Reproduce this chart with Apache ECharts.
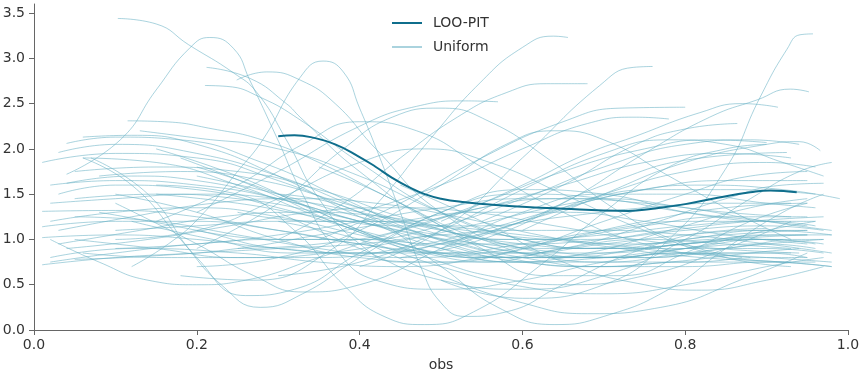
<!DOCTYPE html>
<html>
<head>
<meta charset="utf-8">
<script src="https://cdn.jsdelivr.net/npm/echarts@6/dist/echarts.min.js"></script>
<style>
  html, body { margin: 0; padding: 0; background: #fff; }
  #chart { width: 862px; height: 375px; }
</style>
</head>
<body>
<div id="chart"></div>
<script>
const xTicks = [0, 0.2, 0.4, 0.6, 0.8, 1.0];
const yTicks = [0, 0.5, 1.0, 1.5, 2.0, 2.5, 3.0, 3.5];

// LOO-PIT kde
const looPit = [
  [0.30, 2.14], [0.32, 2.15], [0.34, 2.13], [0.37, 2.05], [0.40, 1.91], [0.42, 1.80],
  [0.44, 1.68], [0.46, 1.58], [0.48, 1.50], [0.50, 1.45], [0.53, 1.41], [0.56, 1.385],
  [0.60, 1.36], [0.65, 1.34], [0.70, 1.32], [0.73, 1.315], [0.76, 1.34], [0.80, 1.39],
  [0.84, 1.46], [0.88, 1.52], [0.905, 1.54], [0.937, 1.52]
];

// kde curves of uniform samples (estimated)
const uniformCurves = [
  [[0.103,3.44],[0.15,3.38],[0.19,3.15],[0.245,2.84],[0.274,2.62],[0.31,2.1],[0.35,1.45],[0.4,0.95],[0.45,0.75],[0.55,0.75],[0.65,0.9],[0.75,1.0],[0.85,0.95],[0.93,0.9]],
  [[0.04,1.72],[0.106,2.1],[0.15,2.65],[0.192,3.12],[0.216,3.23],[0.245,3.11],[0.265,2.76],[0.298,2.13],[0.33,1.5],[0.37,0.9],[0.42,0.55],[0.5,0.45],[0.6,0.55],[0.7,0.75],[0.8,0.85],[0.88,0.8]],
  [[0.12,0.7],[0.165,0.95],[0.204,1.25],[0.25,1.75],[0.281,2.1],[0.327,2.79],[0.355,2.97],[0.38,2.85],[0.40,2.45],[0.425,1.9],[0.45,1.3],[0.475,0.7],[0.5,0.3],[0.53,0.15],[0.58,0.2],[0.65,0.5],[0.75,0.9],[0.85,1.1],[0.9,1.12]],
  [[0.5,0.55],[0.6,0.35],[0.7,0.5],[0.78,1.0],[0.849,1.77],[0.892,2.57],[0.925,3.1],[0.941,3.26],[0.957,3.27]],
  [[0.18,0.6],[0.27,0.55],[0.364,0.88],[0.425,1.43],[0.486,2.1],[0.548,2.73],[0.6,3.12],[0.638,3.245],[0.656,3.23]],
  [[0.4,0.7],[0.5,1.1],[0.6,1.9],[0.695,2.7],[0.736,2.9],[0.76,2.91]],
  [[0.3,1.0],[0.38,1.4],[0.45,1.9],[0.52,2.35],[0.58,2.62],[0.63,2.72],[0.68,2.72]],
  [[0.2,1.3],[0.3,1.75],[0.4,2.25],[0.47,2.47],[0.53,2.53],[0.57,2.52]],
  [[0.212,2.9],[0.265,2.78],[0.31,2.5],[0.327,2.35],[0.4,1.75],[0.5,1.15],[0.6,0.85],[0.7,0.8],[0.8,0.9],[0.9,1.0],[0.97,1.0]],
  [[0.21,2.7],[0.237,2.69],[0.278,2.57],[0.327,2.32],[0.4,1.85],[0.5,1.3],[0.6,1.0],[0.7,0.9],[0.8,1.0],[0.9,1.1],[0.95,1.1]],
  [[0.249,2.76],[0.286,2.85],[0.327,2.76],[0.37,2.5],[0.42,2.0],[0.5,1.3],[0.6,0.9],[0.7,0.8],[0.8,0.9],[0.9,1.1],[0.96,1.2]],
  [[0.45,0.8],[0.55,1.0],[0.65,1.4],[0.75,1.95],[0.83,2.35],[0.888,2.54],[0.929,2.66],[0.952,2.63]],
  [[0.5,1.2],[0.6,1.6],[0.68,1.95],[0.736,2.13],[0.818,2.4],[0.87,2.5],[0.914,2.46]],
  [[0.35,1.0],[0.45,1.4],[0.55,1.9],[0.65,2.3],[0.72,2.45],[0.80,2.46]],
  [[0.4,1.3],[0.5,1.6],[0.6,2.0],[0.68,2.28],[0.74,2.35],[0.78,2.33]],
  [[0.55,1.2],[0.65,1.6],[0.74,2.05],[0.8,2.22],[0.864,2.28]],
  [[0.6,1.1],[0.7,1.5],[0.8,1.85],[0.9,2.05],[0.94,2.08],[0.966,1.98]],
  [[0.5,0.9],[0.6,1.2],[0.7,1.6],[0.82,1.9],[0.925,1.96]],
  [[0.01,0.72],[0.1,0.8],[0.2,0.85],[0.3,0.9],[0.4,0.95],[0.5,1.05],[0.6,1.1],[0.7,1.1],[0.8,1.05],[0.9,0.95],[0.98,0.85]],
  [[0.02,0.75],[0.1,0.85],[0.2,0.95],[0.3,1.0],[0.4,1.0],[0.5,0.95],[0.6,0.95],[0.7,1.0],[0.8,1.1],[0.9,1.15],[0.97,1.1]],
  [[0.02,0.8],[0.12,0.9],[0.25,0.85],[0.35,0.75],[0.45,0.7],[0.55,0.8],[0.65,1.0],[0.75,1.2],[0.85,1.35],[0.95,1.4]],
  [[0.01,1.02],[0.1,1.05],[0.2,1.0],[0.3,0.9],[0.4,0.85],[0.5,0.85],[0.6,0.95],[0.7,1.1],[0.8,1.2],[0.9,1.2],[0.96,1.15]],
  [[0.01,1.14],[0.1,1.2],[0.2,1.2],[0.3,1.1],[0.4,0.95],[0.5,0.85],[0.6,0.85],[0.7,0.95],[0.8,1.05],[0.9,1.1],[0.98,1.05]],
  [[0.01,1.31],[0.1,1.32],[0.2,1.25],[0.3,1.1],[0.4,0.95],[0.5,0.85],[0.6,0.8],[0.7,0.85],[0.8,0.95],[0.9,1.0],[0.97,0.95]],
  [[0.02,1.2],[0.1,1.3],[0.2,1.35],[0.3,1.25],[0.4,1.05],[0.5,0.85],[0.6,0.75],[0.7,0.8],[0.8,0.9],[0.9,0.95],[0.96,0.9]],
  [[0.03,1.5],[0.1,1.6],[0.2,1.55],[0.3,1.35],[0.4,1.1],[0.5,0.9],[0.6,0.8],[0.7,0.8],[0.8,0.85],[0.9,0.85],[0.95,0.8]],
  [[0.04,1.62],[0.12,1.7],[0.2,1.65],[0.3,1.45],[0.4,1.2],[0.5,0.95],[0.6,0.75],[0.7,0.7],[0.8,0.75],[0.9,0.75],[0.98,0.7]],
  [[0.01,1.85],[0.1,1.95],[0.2,1.9],[0.3,1.65],[0.4,1.3],[0.5,1.0],[0.6,0.8],[0.7,0.7],[0.8,0.7],[0.9,0.75],[0.96,0.75]],
  [[0.03,1.96],[0.1,2.05],[0.2,1.95],[0.3,1.7],[0.4,1.35],[0.5,1.05],[0.6,0.85],[0.7,0.75],[0.8,0.75],[0.9,0.8],[0.95,0.8]],
  [[0.04,2.06],[0.1,2.13],[0.18,2.1],[0.28,1.85],[0.38,1.45],[0.48,1.05],[0.58,0.8],[0.68,0.7],[0.78,0.75],[0.88,0.85],[0.94,0.9]],
  [[0.06,2.13],[0.12,2.15],[0.2,2.05],[0.3,1.7],[0.4,1.25],[0.5,0.9],[0.6,0.75],[0.7,0.75],[0.8,0.85],[0.9,0.95],[0.97,1.0]],
  [[0.02,1.4],[0.1,1.45],[0.2,1.5],[0.3,1.45],[0.4,1.3],[0.5,1.1],[0.6,0.95],[0.7,0.9],[0.8,0.9],[0.9,0.9],[0.97,0.85]],
  [[0.05,1.75],[0.15,1.8],[0.25,1.75],[0.35,1.55],[0.45,1.25],[0.55,1.0],[0.65,0.85],[0.75,0.8],[0.85,0.85],[0.93,0.85]],
  [[0.06,1.9],[0.15,1.85],[0.25,1.6],[0.35,1.25],[0.45,0.95],[0.55,0.8],[0.65,0.8],[0.75,0.9],[0.85,1.0],[0.95,1.05]],
  [[0.03,1.1],[0.12,1.25],[0.22,1.4],[0.32,1.45],[0.42,1.4],[0.52,1.25],[0.62,1.05],[0.72,0.9],[0.82,0.8],[0.92,0.75],[0.98,0.7]],
  [[0.04,0.9],[0.14,1.0],[0.24,1.15],[0.34,1.3],[0.44,1.35],[0.54,1.3],[0.64,1.15],[0.74,1.0],[0.84,0.9],[0.94,0.85]],
  [[0.05,1.25],[0.15,1.2],[0.25,1.05],[0.35,0.9],[0.45,0.8],[0.55,0.85],[0.65,1.0],[0.75,1.15],[0.85,1.25],[0.95,1.25]],
  [[0.02,1.6],[0.1,1.65],[0.2,1.6],[0.3,1.45],[0.4,1.2],[0.5,1.0],[0.6,0.85],[0.7,0.85],[0.8,0.95],[0.9,1.0],[0.96,0.95]],
  [[0.06,1.9],[0.12,1.6],[0.18,1.0],[0.23,0.5],[0.278,0.25],[0.33,0.4],[0.4,0.8],[0.5,1.3],[0.6,1.5],[0.7,1.45],[0.8,1.3],[0.9,1.2],[0.95,1.15]],
  [[0.07,1.9],[0.14,1.5],[0.2,0.8],[0.26,0.38],[0.32,0.45],[0.4,0.85],[0.5,1.3],[0.6,1.55],[0.7,1.5],[0.8,1.3],[0.88,1.2]],
  [[0.02,1.0],[0.08,0.75],[0.14,0.55],[0.2,0.5],[0.26,0.55],[0.35,0.8],[0.45,1.1],[0.55,1.35],[0.65,1.45],[0.75,1.4],[0.85,1.3],[0.93,1.25]],
  [[0.1,1.4],[0.2,0.95],[0.27,0.6],[0.33,0.42],[0.4,0.5],[0.5,0.9],[0.6,1.3],[0.7,1.5],[0.8,1.5],[0.9,1.4],[0.96,1.35]],
  [[0.15,1.6],[0.25,1.5],[0.32,1.1],[0.38,0.5],[0.43,0.15],[0.48,0.06],[0.54,0.2],[0.62,0.7],[0.7,1.3],[0.78,1.8],[0.85,2.0],[0.9,2.05]],
  [[0.3,1.5],[0.4,1.3],[0.5,0.7],[0.57,0.25],[0.64,0.06],[0.7,0.15],[0.78,0.45],[0.85,0.9],[0.92,1.3],[0.97,1.5]],
  [[0.4,1.0],[0.5,0.6],[0.6,0.3],[0.68,0.18],[0.77,0.25],[0.876,0.58],[0.95,0.85]],
  [[0.45,1.6],[0.55,1.2],[0.65,0.75],[0.75,0.5],[0.82,0.44],[0.9,0.55],[0.97,0.7]],
  [[0.3,1.2],[0.4,1.0],[0.5,0.7],[0.6,0.48],[0.7,0.4],[0.8,0.5],[0.9,0.7],[0.97,0.8]],
  [[0.2,1.8],[0.3,1.5],[0.4,1.1],[0.5,0.75],[0.57,0.58],[0.65,0.5],[0.75,0.6],[0.85,0.9],[0.93,1.2]],
  [[0.08,1.3],[0.2,1.1],[0.3,0.9],[0.4,0.85],[0.5,0.95],[0.6,1.2],[0.7,1.5],[0.8,1.75],[0.9,1.85],[0.96,1.8]],
  [[0.05,1.0],[0.15,0.9],[0.25,0.8],[0.35,0.8],[0.45,0.9],[0.55,1.1],[0.65,1.35],[0.75,1.55],[0.85,1.65],[0.95,1.65]],
  [[0.1,1.5],[0.2,1.3],[0.3,1.0],[0.4,0.8],[0.5,0.75],[0.6,0.9],[0.7,1.2],[0.8,1.5],[0.88,1.7],[0.95,1.75]],
  [[0.12,1.2],[0.22,1.0],[0.32,0.85],[0.42,0.85],[0.52,1.0],[0.62,1.25],[0.72,1.5],[0.82,1.6],[0.92,1.55],[0.99,1.45]],
  [[0.06,0.85],[0.16,0.8],[0.26,0.8],[0.36,0.85],[0.46,1.0],[0.56,1.2],[0.66,1.4],[0.76,1.55],[0.86,1.55],[0.96,1.5]],
  [[0.15,2.0],[0.25,1.7],[0.35,1.3],[0.45,0.95],[0.55,0.8],[0.65,0.9],[0.75,1.15],[0.85,1.45],[0.92,1.6],[0.97,1.62]],
  [[0.18,1.9],[0.28,1.55],[0.38,1.15],[0.48,0.85],[0.58,0.75],[0.68,0.85],[0.78,1.1],[0.88,1.35],[0.95,1.45]],
  [[0.2,1.1],[0.3,1.0],[0.4,1.0],[0.5,1.15],[0.6,1.45],[0.7,1.8],[0.8,2.05],[0.88,2.1],[0.94,2.05]],
  [[0.25,0.9],[0.35,0.95],[0.45,1.1],[0.55,1.4],[0.65,1.75],[0.75,2.0],[0.83,2.1],[0.9,2.07]],
  [[0.1,0.9],[0.2,0.95],[0.3,1.05],[0.4,1.2],[0.5,1.35],[0.6,1.45],[0.7,1.45],[0.8,1.35],[0.9,1.2],[0.98,1.1]],
  [[0.1,1.0],[0.2,1.1],[0.3,1.45],[0.4,1.85],[0.48,2.0],[0.56,1.85],[0.65,1.5],[0.75,1.1],[0.85,0.8],[0.93,0.7]],
  [[0.2,0.7],[0.3,0.8],[0.4,1.1],[0.5,1.6],[0.58,2.05],[0.64,2.2],[0.7,2.1],[0.78,1.7],[0.86,1.3],[0.93,1.0]],
  [[0.115,2.31],[0.16,2.3],[0.22,2.22],[0.28,2.1],[0.35,1.85],[0.45,1.4],[0.55,1.0],[0.65,0.8],[0.75,0.8],[0.85,0.9],[0.92,1.0]],
  [[0.13,2.2],[0.2,2.12],[0.3,2.0],[0.4,1.7],[0.5,1.3],[0.6,1.0],[0.7,0.9],[0.8,0.95],[0.9,1.05],[0.95,1.05]],
  [[0.15,1.2],[0.25,1.6],[0.33,2.05],[0.4,2.3],[0.47,2.2],[0.55,1.8],[0.65,1.3],[0.75,0.95],[0.85,0.8],[0.93,0.75]],
  [[0.2,0.9],[0.3,1.4],[0.38,2.0],[0.44,2.35],[0.5,2.45],[0.56,2.3],[0.63,1.9],[0.72,1.3],[0.8,0.95],[0.87,0.8]],
  [[0.3,0.6],[0.4,0.75],[0.5,1.1],[0.6,1.55],[0.7,1.95],[0.78,2.1],[0.85,2.05],[0.92,1.85],[0.97,1.7]],
  [[0.25,1.3],[0.35,1.2],[0.45,1.2],[0.55,1.35],[0.65,1.6],[0.75,1.85],[0.85,1.95],[0.93,1.9]],
  [[0.1,1.1],[0.2,1.15],[0.3,1.2],[0.4,1.2],[0.5,1.15],[0.6,1.05],[0.7,0.95],[0.8,0.85],[0.9,0.8],[0.98,0.75]],
  [[0.05,1.45],[0.15,1.5],[0.25,1.45],[0.35,1.3],[0.45,1.1],[0.55,0.95],[0.65,0.9],[0.75,0.95],[0.85,1.05],[0.95,1.1]],
  [[0.08,1.7],[0.18,1.75],[0.28,1.65],[0.38,1.4],[0.48,1.15],[0.58,1.0],[0.68,1.0],[0.78,1.1],[0.88,1.2],[0.97,1.25]],
  [[0.03,0.95],[0.13,1.1],[0.23,1.25],[0.33,1.3],[0.43,1.25],[0.53,1.1],[0.63,1.0],[0.73,0.95],[0.83,1.0],[0.93,1.05],[0.98,1.05]],
  [[0.3,1.3],[0.4,0.9],[0.5,0.55],[0.6,0.45],[0.7,0.6],[0.8,1.0],[0.88,1.45],[0.94,1.75],[0.98,1.85]],
  [[0.35,1.8],[0.45,1.4],[0.55,0.9],[0.63,0.6],[0.72,0.6],[0.8,0.85],[0.88,1.2],[0.95,1.4]],
  [[0.15,1.5],[0.25,1.4],[0.35,1.25],[0.45,1.15],[0.55,1.15],[0.65,1.25],[0.75,1.35],[0.85,1.4],[0.93,1.4]],
  [[0.2,1.7],[0.3,1.5],[0.4,1.25],[0.5,1.05],[0.6,1.0],[0.7,1.05],[0.8,1.15],[0.9,1.2],[0.96,1.2]],
  [[0.05,0.78],[0.15,0.82],[0.25,0.9],[0.35,1.05],[0.45,1.2],[0.55,1.3],[0.65,1.3],[0.75,1.2],[0.85,1.05],[0.95,0.95]]
];

const chart = echarts.init(document.getElementById("chart"));

const axisText = { color: "#333", fontSize: 14, fontFamily: "DejaVu Sans" };
const unifColor = "rgba(100,175,195,0.55)";
const looColor = "#0f6e8c";

const series = uniformCurves.map(function (curve) {
  return {
    name: "Uniform",
    type: "line",
    data: curve,
    smooth: 0.5,
    symbol: "none",
    silent: true,
    itemStyle: { color: unifColor },
    lineStyle: { width: 1, color: unifColor }
  };
});
series.push({
  name: "LOO-PIT",
  type: "line",
  data: looPit,
  smooth: 0.5,
  symbol: "none",
  z: 5,
  itemStyle: { color: looColor },
  lineStyle: { width: 2, color: looColor }
});

chart.setOption({
  animation: false,
  grid: { left: 34, right: 14, top: 4, bottom: 45, outerBoundsMode: "none" },
  legend: {
    data: ["LOO-PIT", "Uniform"],
    orient: "vertical",
    left: 386,
    top: 11,
    itemWidth: 30,
    itemHeight: 12,
    itemGap: 10,
    itemStyle: { opacity: 0 },
    textStyle: { color: "#333", fontSize: 14, fontFamily: "DejaVu Sans", padding: [0, 0, 0, 6] }
  },
  xAxis: {
    type: "value",
    min: 0,
    max: 1,
    name: "obs",
    nameLocation: "middle",
    nameGap: 28,
    nameTextStyle: axisText,
    splitLine: { show: false },
    axisLine: { lineStyle: { color: "#666" } },
    axisTick: { length: 5, lineStyle: { color: "#666" }, customValues: xTicks },
    axisLabel: Object.assign({ margin: 8, customValues: xTicks, formatter: function (v) { return v.toFixed(1); } }, axisText)
  },
  yAxis: {
    type: "value",
    min: 0,
    max: 3.6,
    splitLine: { show: false },
    axisLine: { show: true, lineStyle: { color: "#666" } },
    axisTick: { show: true, length: 5, lineStyle: { color: "#666" }, customValues: yTicks },
    axisLabel: Object.assign({ margin: 9, customValues: yTicks, formatter: function (v) { return v.toFixed(1); } }, axisText)
  },
  series: series
});

window.addEventListener("resize", function () { chart.resize(); });
</script>
</body>
</html>
